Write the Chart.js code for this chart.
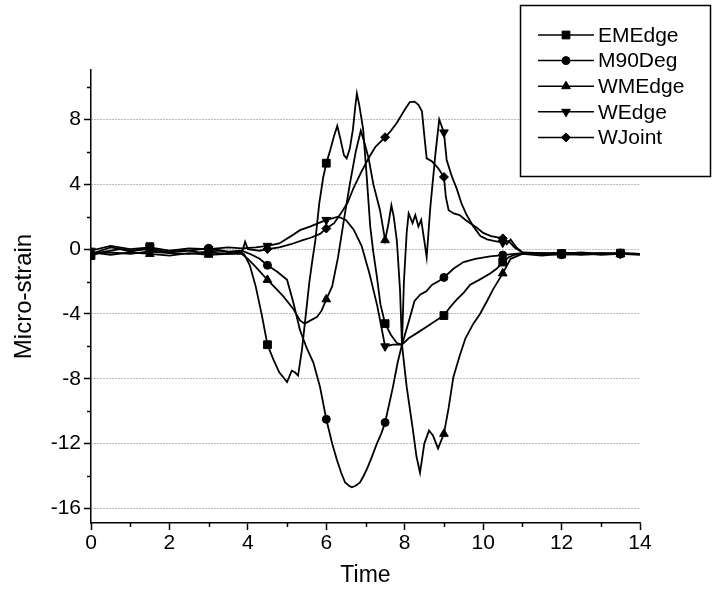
<!DOCTYPE html>
<html>
<head>
<meta charset="utf-8">
<script src="https://cdn.jsdelivr.net/npm/chart.js@4/dist/chart.umd.min.js"></script>
<style>
  html, body { margin: 0; padding: 0; background: #fff; }
  #wrap { width: 713px; height: 594px; }
</style>
</head>
<body>
<div id="wrap"><canvas id="chart" width="713" height="594"></canvas></div>
<script>
const FONT = "'Liberation Sans', Arial, sans-serif";

// axes
const xTicks = [0, 2, 4, 6, 8, 10, 12, 14];
const xMinor = [1, 3, 5, 7, 9, 11, 13];
const yTicks = [-16, -12, -8, -4, 0, 4, 8];
const yMinor = [-14, -10, -6, -2, 2, 6, 10];
const MARK_EVERY = 1.5; // a marker every 1.5 s on each curve

// EMEdge (squares)
const emTime = [0, 0.25, 0.5, 0.75, 1, 1.25, 1.5, 1.75, 2, 2.25, 2.5, 2.75, 3, 3.25, 3.5, 3.75, 3.9, 4.05, 4.2, 4.35, 4.5, 4.65, 4.8, 5.0, 5.12, 5.2, 5.28, 5.38, 5.48, 5.57, 5.65, 5.72, 5.82, 5.92, 6.0, 6.1, 6.2, 6.28, 6.36, 6.45, 6.52, 6.6, 6.68, 6.74, 6.78, 6.84, 6.94, 7.03, 7.12, 7.2, 7.29, 7.38, 7.5, 7.65, 7.8, 7.93, 8.1, 8.3, 8.55, 8.8, 9.0, 9.15, 9.33, 9.5, 9.67, 9.9, 10.18, 10.35, 10.5, 10.65, 10.8, 11.0, 11.5, 12.0, 12.5, 13.0, 13.5, 14.0];
const emVal = [-0.4, -0.2, -0.1, 0.0, -0.15, -0.05, 0.15, -0.1, -0.2, -0.05, -0.1, -0.2, -0.15, -0.1, -0.2, -0.15, -0.3, -1.0, -2.3, -4.0, -5.9, -6.8, -7.6, -8.2, -7.5, -7.6, -7.8, -6.2, -4.0, -2.0, -0.6, 0.5, 2.8, 4.4, 5.3, 6.1, 7.0, 7.6, 6.8, 5.8, 5.6, 6.2, 7.4, 8.8, 9.6, 8.9, 7.4, 4.5, 1.4, -0.2, -1.7, -3.4, -4.6, -5.3, -5.8, -5.9, -5.5, -5.2, -4.8, -4.4, -4.1, -3.6, -3.1, -2.7, -2.2, -1.9, -1.5, -1.2, -0.8, -0.5, -0.35, -0.3, -0.25, -0.3, -0.35, -0.3, -0.25, -0.3];

// M90Deg (circles)
const m90Time = [0, 0.5, 1, 1.5, 2, 2.5, 3, 3.5, 3.85, 4.1, 4.3, 4.5, 4.75, 5.0, 5.16, 5.33, 5.5, 5.67, 5.84, 6.0, 6.15, 6.27, 6.38, 6.48, 6.58, 6.65, 6.75, 6.86, 6.95, 7.03, 7.15, 7.29, 7.4, 7.5, 7.6, 7.7, 7.82, 7.93, 8.1, 8.25, 8.4, 8.55, 8.7, 8.85, 9.0, 9.25, 9.5, 9.8, 10.18, 10.5, 10.8, 11.0, 11.5, 12.0, 12.5, 13.0, 13.5, 14.0];
const m90Val = [-0.3, 0.1, -0.1, 0.0, -0.2, -0.1, 0.05, -0.15, -0.1, -0.35, -0.6, -1.0, -1.4, -1.9, -3.3, -5.0, -6.1, -7.0, -8.5, -10.5, -12.0, -13.0, -13.8, -14.4, -14.6, -14.7, -14.6, -14.4, -14.0, -13.6, -12.9, -12.0, -11.4, -10.7, -9.6, -8.5, -7.0, -5.9, -4.5, -3.2, -2.8, -2.6, -2.2, -2.0, -1.75, -1.2, -0.8, -0.6, -0.45, -0.37, -0.3, -0.25, -0.3, -0.35, -0.3, -0.25, -0.3, -0.35];

// WMEdge (up triangles)
const wmTime = [0, 0.5, 1, 1.5, 2, 2.5, 3, 3.5, 3.85, 4.0, 4.2, 4.5, 4.7, 4.9, 5.16, 5.33, 5.45, 5.6, 5.76, 5.88, 6.0, 6.15, 6.3, 6.45, 6.6, 6.75, 6.88, 6.98, 7.08, 7.2, 7.37, 7.5, 7.58, 7.66, 7.72, 7.8, 7.88, 7.93, 8.05, 8.2, 8.3, 8.39, 8.5, 8.62, 8.72, 8.85, 9.0, 9.12, 9.24, 9.4, 9.55, 9.75, 9.92, 10.1, 10.25, 10.5, 10.7, 11.0, 11.5, 12.0, 12.5, 13.0, 13.5, 14.0];
const wmVal = [-0.2, -0.35, -0.2, -0.3, -0.4, -0.25, -0.35, -0.3, -0.3, -0.6, -1.1, -1.9, -2.4, -2.9, -3.7, -4.4, -4.6, -4.4, -4.2, -3.8, -3.1, -2.3, -0.5, 1.8, 4.0, 6.0, 7.3, 6.5, 5.6, 4.0, 2.4, 0.55, 1.5, 2.7, 2.0, 0.5, -2.5, -5.9, -8.5, -11.0, -12.8, -13.8, -12.0, -11.2, -11.5, -12.3, -11.4, -9.8, -7.9, -6.6, -5.5, -4.6, -4.0, -3.2, -2.5, -1.5, -0.6, -0.3, -0.4, -0.3, -0.25, -0.35, -0.3, -0.3];

// WEdge (down triangles)
const weTime = [0, 0.5, 1, 1.5, 2, 2.5, 3, 3.5, 3.85, 4.2, 4.5, 4.8, 5.1, 5.33, 5.6, 5.8, 6.0, 6.15, 6.3, 6.5, 6.7, 6.9, 7.1, 7.3, 7.5, 7.7, 7.93, 7.98, 8.05, 8.1, 8.2, 8.27, 8.35, 8.42, 8.5, 8.56, 8.65, 8.78, 8.88, 9.0, 9.07, 9.2, 9.33, 9.45, 9.58, 9.75, 9.93, 10.1, 10.27, 10.5, 10.65, 10.8, 11.0, 11.5, 12.0, 12.5, 13.0, 13.5, 14.0];
const weVal = [-0.1, 0.2, 0.0, 0.1, -0.1, 0.05, 0.0, 0.1, 0.05, 0.1, 0.2, 0.35, 0.8, 1.17, 1.4, 1.6, 1.8, 1.9, 2.0, 1.8, 1.2, 0.2, -1.5, -3.5, -6.0, -5.9, -5.9, -2.0, 1.0, 2.2, 1.6, 2.1, 1.4, 1.8, 0.5, -0.5, 2.5, 5.8, 8.0, 7.2, 5.5, 4.5, 3.7, 2.8, 2.1, 1.4, 0.8, 0.6, 0.5, 0.4, 0.5, 0.1, -0.2, -0.3, -0.2, -0.3, -0.25, -0.3, -0.3];

// WJoint (diamonds)
const wjTime = [0, 0.5, 1, 1.5, 2, 2.5, 3, 3.5, 3.85, 3.93, 4.0, 4.3, 4.5, 4.8, 5.1, 5.4, 5.6, 5.84, 6.0, 6.2, 6.4, 6.55, 6.7, 6.9, 7.1, 7.25, 7.5, 7.65, 7.8, 8.0, 8.13, 8.25, 8.35, 8.44, 8.5, 8.56, 8.7, 8.85, 9.0, 9.05, 9.12, 9.25, 9.4, 9.55, 9.67, 9.85, 10.0, 10.2, 10.5, 10.6, 10.7, 10.85, 11.0, 11.5, 12.0, 12.5, 13.0, 13.5, 14.0];
const wjVal = [-0.3, -0.2, -0.3, -0.15, -0.25, -0.3, -0.2, -0.3, -0.2, 0.45, 0.0, -0.1, 0.0, 0.1, 0.3, 0.55, 0.7, 0.94, 1.27, 1.6, 2.3, 2.9, 3.8, 4.8, 5.7, 6.3, 6.9, 7.3, 7.8, 8.6, 9.07, 9.1, 8.9, 8.5, 7.0, 5.6, 5.4, 5.0, 4.45, 3.2, 2.4, 2.2, 2.1, 1.8, 1.6, 1.3, 1.0, 0.8, 0.66, 0.3, 0.6, 0.1, -0.2, -0.25, -0.3, -0.2, -0.3, -0.25, -0.3];

const seriesNames = ["EMEdge", "M90Deg", "WMEdge", "WEdge", "WJoint"];
const seriesTime = [emTime, m90Time, wmTime, weTime, wjTime];
const seriesVal = [emVal, m90Val, wmVal, weVal, wjVal];
const markerStyle = ["rect", "circle", "triangle", "triangle", "rectRot"];
const markerRot = [0, 0, 0, 180, 0];
const markerSize = [5.5, 4, 5, 5, 4.5];

function isMark(x) {
    const k = x / MARK_EVERY;
    return Math.abs(k - Math.round(k)) < 1e-6;
}

const datasets = seriesNames.map((name, i) => ({
    label: name,
    data: seriesTime[i].map((t, j) => ({ x: t, y: seriesVal[i][j] })),
    borderColor: "#000",
    backgroundColor: "#000",
    borderWidth: 1.8,
    tension: 0,
    pointStyle: markerStyle[i],
    rotation: markerRot[i],
    pointRadius: ctx => (ctx.raw && isMark(ctx.raw.x) ? markerSize[i] : 0),
    pointBorderWidth: 1,
    pointHoverRadius: 0
}));

// small extra ticks between the labelled ones
const minorTicks = {
    id: "minorTicks",
    afterDraw(chart) {
        const { ctx, chartArea, scales } = chart;
        ctx.save();
        ctx.strokeStyle = "#000";
        ctx.lineWidth = 1.5;
        xMinor.forEach(v => {
            const px = Math.round(scales.x.getPixelForValue(v)) + 0.5;
            ctx.beginPath();
            ctx.moveTo(px, chartArea.bottom);
            ctx.lineTo(px, chartArea.bottom + 4);
            ctx.stroke();
        });
        yMinor.forEach(v => {
            const py = Math.round(scales.y.getPixelForValue(v)) + 0.5;
            ctx.beginPath();
            ctx.moveTo(chartArea.left, py);
            ctx.lineTo(chartArea.left - 4, py);
            ctx.stroke();
        });
        ctx.restore();
    }
};

// boxed legend in the top right corner
const boxLegend = {
    id: "boxLegend",
    afterDraw(chart) {
        const c = chart.ctx;
        c.save();
        c.fillStyle = "#fff";
        c.fillRect(520, 5, 191, 172);
        c.strokeStyle = "#000";
        c.lineWidth = 1.5;
        c.strokeRect(520.5, 5.5, 190, 171);
        chart.data.datasets.forEach((ds, i) => {
            const y = 35 + i * 25.6;
            c.strokeStyle = "#000";
            c.lineWidth = 1.5;
            c.beginPath();
            c.moveTo(538, y);
            c.lineTo(594, y);
            c.stroke();
            c.fillStyle = "#000";
            c.lineWidth = 1;
            Chart.helpers.drawPoint(c, {
                pointStyle: markerStyle[i],
                rotation: markerRot[i],
                radius: markerSize[i],
                borderWidth: 1
            }, 566, y);
            c.fillStyle = "#000";
            c.font = "21px " + FONT;
            c.textBaseline = "middle";
            c.textAlign = "left";
            c.fillText(ds.label, 598, y + 1);
        });
        c.restore();
    }
};

new Chart(document.getElementById("chart"), {
    type: "line",
    data: { datasets },
    plugins: [minorTicks, boxLegend],
    options: {
        responsive: false,
        animation: false,
        devicePixelRatio: 1,
        layout: { padding: { left: 0, right: 73, top: 70, bottom: 0 } },
        plugins: { legend: { display: false }, tooltip: { enabled: false } },
        scales: {
            x: {
                type: "linear",
                min: 0,
                max: 14,
                afterBuildTicks: s => { s.ticks = xTicks.map(v => ({ value: v })); },
                afterFit: s => { s.height = 71; },
                grid: { drawOnChartArea: false, tickLength: 7, tickColor: "#000", tickWidth: 1.5 },
                border: { color: "#000", width: 1.5 },
                ticks: { color: "#000", padding: 1, maxRotation: 0, font: { family: FONT, size: 21 } },
                title: { display: true, text: "Time", color: "#000", padding: { top: 0, bottom: 5 }, font: { family: FONT, size: 23 } }
            },
            y: {
                type: "linear",
                min: -16.9,
                max: 11.05,
                afterBuildTicks: s => { s.ticks = yTicks.map(v => ({ value: v })); },
                afterFit: s => { s.width = 91; },
                grid: { color: "#777", lineWidth: 1, tickLength: 7, tickColor: "#000", tickWidth: 1.5 },
                border: { color: "#000", width: 1.5, dash: [1, 2] },
                ticks: { color: "#000", padding: 3, font: { family: FONT, size: 21 } },
                title: { display: true, text: "Micro-strain", color: "#000", padding: { top: 10, bottom: 0 }, font: { family: FONT, size: 24 } }
            }
        }
    }
});
</script>
</body>
</html>
